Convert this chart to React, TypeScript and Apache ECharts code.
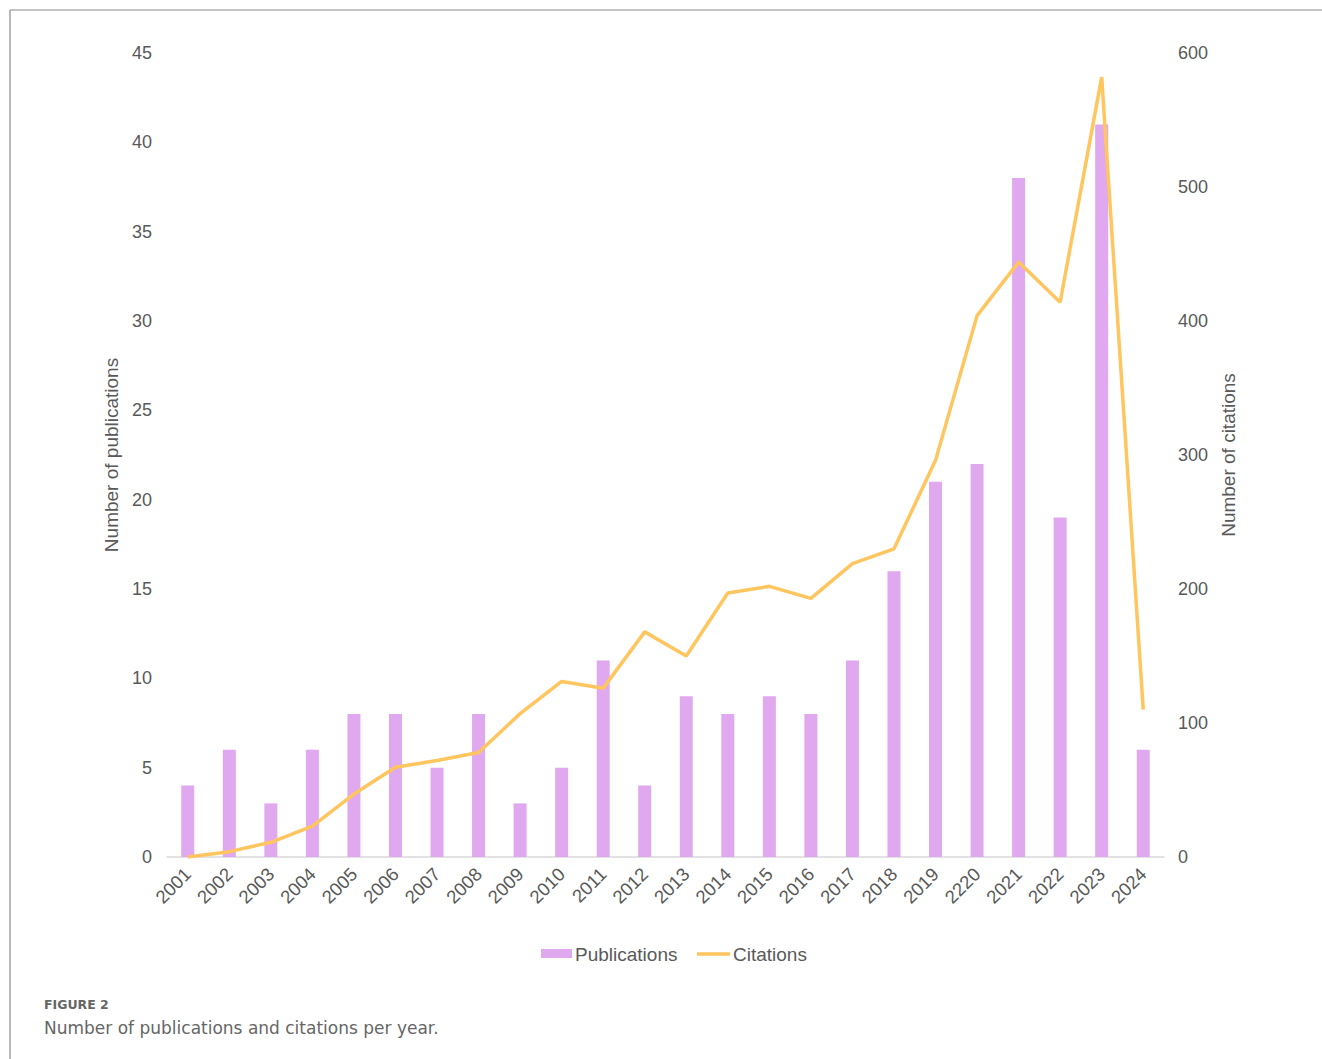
import React, { useEffect, useRef } from "react";
import * as echarts from "echarts";

const years = ["2001","2002","2003","2004","2005","2006","2007","2008","2009","2010","2011","2012","2013","2014","2015","2016","2017","2018","2019","2220","2021","2022","2023","2024"];
const publications = [4,6,3,6,8,8,5,8,3,5,11,4,9,8,9,8,11,16,21,22,38,19,41,6];
const citations = [0,4,11,23,47,67,72,78,107,131,126,168,150,197,202,193,219,230,296,404,444,414,582,110];
const leftTicks = { min: 0, max: 45, interval: 5 };
const rightTicks = { min: 0, max: 600, interval: 100 };
const seriesNames = ["Publications", "Citations"];

const TEXT = "#595959";
const FONT = "'Liberation Sans', Arial, sans-serif";
const BAR = "#E0A8EE";
const LINE = "#FFC55E";

export default function App() {
  const ref = useRef<HTMLDivElement>(null);
  useEffect(() => {
    const chart = echarts.init(ref.current!, null, { renderer: "svg" });
    chart.setOption({
      animation: false,
      backgroundColor: "#ffffff",
      textStyle: { fontFamily: FONT },
      grid: { left: 167, right: 158, top: 53, bottom: 202, containLabel: false },
      xAxis: {
        type: "category",
        data: years,
        axisLine: { lineStyle: { color: "#D9D9D9", width: 1.5 } },
        axisTick: { show: false },
        axisLabel: { rotate: 45, color: TEXT, fontSize: 18.5, fontFamily: FONT, margin: 14, interval: 0 },
      },
      yAxis: [
        {
          type: "value",
          ...leftTicks,
          name: "Number of publications",
          nameLocation: "middle",
          nameGap: 40,
          nameRotate: 90,
          nameTextStyle: { color: TEXT, fontSize: 19, fontFamily: FONT },
          axisLine: { show: false },
          axisTick: { show: false },
          splitLine: { show: false },
          axisLabel: { color: TEXT, fontSize: 18, fontFamily: FONT, margin: 15 },
        },
        {
          type: "value",
          ...rightTicks,
          position: "right",
          name: "Number of citations",
          nameLocation: "middle",
          nameGap: 51,
          nameRotate: 90,
          nameTextStyle: { color: TEXT, fontSize: 19, fontFamily: FONT },
          axisLine: { show: false },
          axisTick: { show: false },
          splitLine: { show: false },
          axisLabel: { color: TEXT, fontSize: 18, fontFamily: FONT, margin: 14 },
        },
      ],
      series: [
        {
          name: seriesNames[0],
          type: "bar",
          data: publications,
          barWidth: 13,
          itemStyle: { color: BAR },
          yAxisIndex: 0,
        },
        {
          name: seriesNames[1],
          type: "line",
          data: citations,
          yAxisIndex: 1,
          symbol: "none",
          lineStyle: { color: LINE, width: 3.5 },
          itemStyle: { color: LINE },
        },
      ],
      graphic: [
        { type: "line", shape: { x1: 10, y1: 10, x2: 1322, y2: 10 }, style: { stroke: "#8a8a8a", lineWidth: 1.2 } },
        { type: "line", shape: { x1: 10, y1: 10, x2: 10, y2: 1059 }, style: { stroke: "#8a8a8a", lineWidth: 1.2 } },
        // legend
        { type: "rect", shape: { x: 541, y: 949, width: 31, height: 9 }, style: { fill: BAR } },
        {
          type: "text",
          x: 575,
          y: 954,
          style: { text: seriesNames[0], fill: TEXT, font: `19px ${FONT}`, verticalAlign: "middle", align: "left" },
        },
        { type: "line", shape: { x1: 697, y1: 954, x2: 730, y2: 954 }, style: { stroke: LINE, lineWidth: 3.5 } },
        {
          type: "text",
          x: 733,
          y: 954,
          style: { text: seriesNames[1], fill: TEXT, font: `19px ${FONT}`, verticalAlign: "middle", align: "left" },
        },
        // caption
        {
          type: "text",
          x: 44,
          y: 1004,
          style: { text: "FIGURE 2", fill: "#666666", font: "bold 12.5px 'DejaVu Sans', sans-serif", verticalAlign: "middle" },
        },
        {
          type: "text",
          x: 44,
          y: 1028,
          style: { text: "Number of publications and citations per year.", fill: "#666666", font: "17px 'DejaVu Sans', sans-serif", verticalAlign: "middle" },
        },
      ],
    });
    return () => chart.dispose();
  }, []);
  return (
    <div
      ref={ref}
      style={{ position: "absolute", left: 0, top: 0, width: 1322, height: 1059 }}
    />
  );
}
